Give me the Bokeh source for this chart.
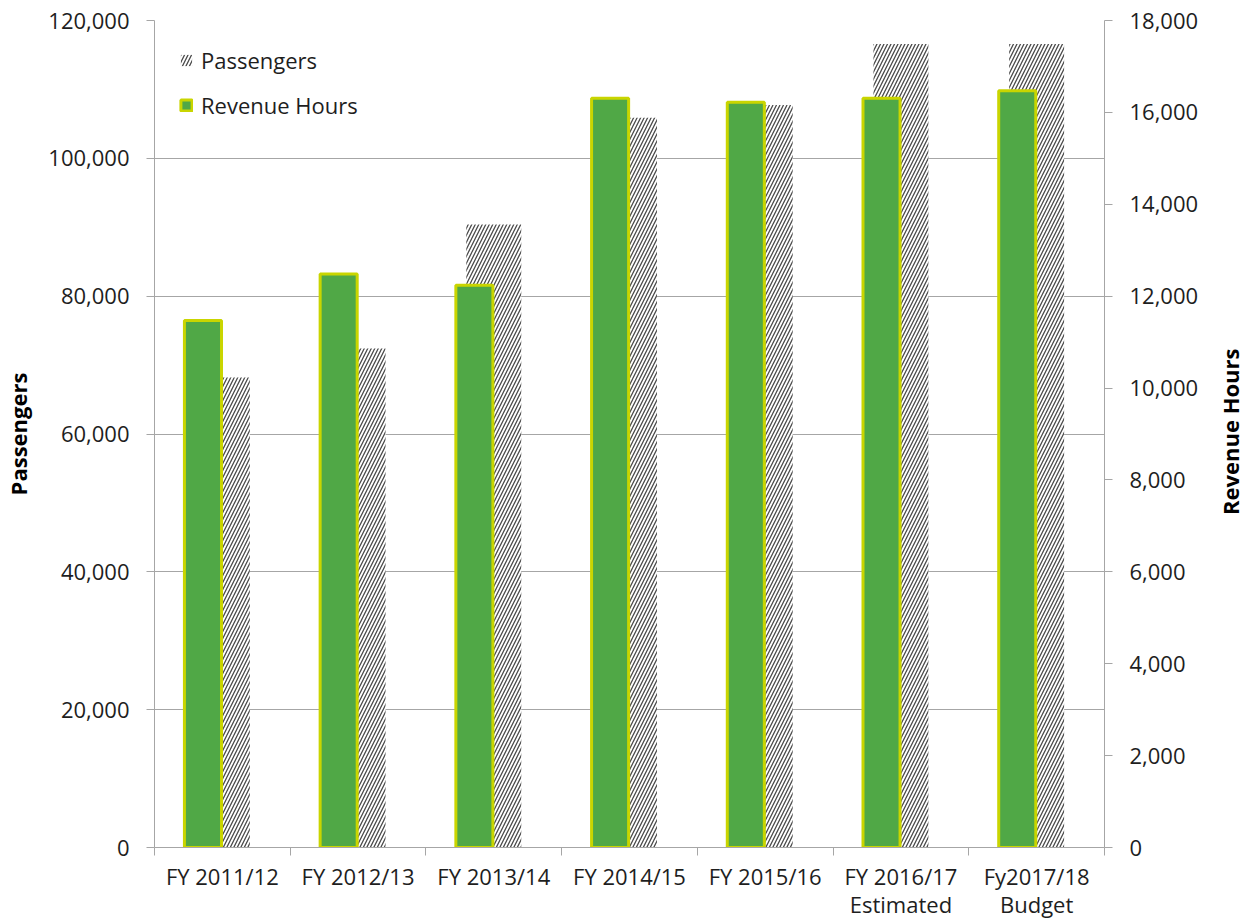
import math
from bokeh.plotting import figure
from bokeh.layouts import row
from bokeh.models import (Range1d, LinearAxis, FixedTicker, NumeralTickFormatter,
                          Legend, LegendItem, ColumnDataSource)
from bokeh.core.properties import value
from bokeh.embed import file_html
from bokeh.resources import INLINE
import numpy as np

categories = ["FY 2011/12", "FY 2012/13", "FY 2013/14", "FY 2014/15",
              "FY 2015/16", "FY 2016/17\nEstimated", "Fy2017/18\nBudget"]
passengers = [68200, 72400, 90400, 105900, 107750, 116600, 116600]
revenue_hours = [11470, 12480, 12240, 16310, 16220, 16310, 16470]
passenger_ticks = list(range(0, 120001, 20000))
hours_ticks = list(range(0, 18001, 2000))
right_title = "Revenue Hours"

FONT = "Open Sans"
TXT = "#1e1e1e"
AX = "#a6a6a6"

p = figure(width=1211, height=921, output_backend="svg", toolbar_location=None,
           x_range=Range1d(0, len(categories)), y_range=Range1d(0, 120000),
           min_border_left=154, min_border_right=107, min_border_top=20,
           min_border_bottom=73)
p.extra_y_ranges = {"rh": Range1d(0, 18000)}
p.outline_line_color = None
p.background_fill_color = "white"

x = np.arange(len(categories)) + 0.5
src = ColumnDataSource(dict(x=x, xg=x - 0.143, pas=passengers, rh=revenue_hours))

r1 = p.vbar(x="x", top="pas", width=0.405, source=src, fill_color="white",
            line_color=None, hatch_pattern="/", hatch_color="#4a4a4a",
            hatch_scale=7, hatch_weight=1.3)
r2 = p.vbar(x="xg", top="rh", width=0.273, source=src, y_range_name="rh",
            fill_color="#50A846", line_color="#C9D500", line_width=3)

# left axis
ya = p.yaxis[0]
ya.ticker = FixedTicker(ticks=passenger_ticks)
ya.formatter = NumeralTickFormatter(format="0,0")
ya.axis_label = "Passengers"

# right axis
ra = LinearAxis(y_range_name="rh", ticker=FixedTicker(ticks=hours_ticks),
                formatter=NumeralTickFormatter(format="0,0"))
p.add_layout(ra, "right")

for a in (ya, ra):
    a.axis_line_color = AX
    a.major_tick_line_color = AX
    a.major_tick_out = 8
    a.major_tick_in = 0
    a.minor_tick_line_color = None
    a.major_label_text_font = FONT
    a.major_label_text_font_size = "22px"
    a.major_label_text_color = TXT
    a.major_label_standoff = 17
    a.axis_label_text_font = FONT
    a.axis_label_text_font_size = "22px"
    a.axis_label_text_font_style = "bold"
    a.axis_label_text_color = "#000000"
    a.axis_label_standoff = 12

# bottom axis
xa = p.xaxis[0]
xa.ticker = FixedTicker(ticks=list(x), minor_ticks=list(range(len(categories) + 1)))
xa.major_label_overrides = {float(xi): c for xi, c in zip(x, categories)}
xa.axis_line_color = AX
xa.major_tick_out = 0
xa.major_tick_in = 0
xa.major_tick_line_color = None
xa.minor_tick_line_color = AX
xa.minor_tick_out = 8
xa.minor_tick_in = 0
xa.major_label_text_font = FONT
xa.major_label_text_font_size = "22px"
xa.major_label_text_color = TXT
xa.major_label_text_line_height = 0.94
xa.major_label_standoff = 5

p.xgrid.visible = False
p.ygrid.grid_line_color = AX
p.ygrid.grid_line_width = 1

legend = Legend(items=[LegendItem(label="Passengers", renderers=[r1]),
                       LegendItem(label="Revenue Hours", renderers=[r2])],
                location="top_left", margin=25, padding=13, spacing=15,
                label_height=30, glyph_height=14, glyph_width=14,
                label_standoff=8, border_line_color=None,
                background_fill_alpha=0,
                label_text_font=FONT, label_text_font_size="22px",
                label_text_color=TXT)
p.add_layout(legend)

# narrow strip holding the right-hand axis title (reads bottom to top)
t = figure(width=40, height=921, output_backend="svg", toolbar_location=None,
           x_range=Range1d(0, 40), y_range=Range1d(0, 921),
           x_axis_type=None, y_axis_type=None,
           min_border_left=0, min_border_right=0, min_border_top=0,
           min_border_bottom=0)
t.outline_line_color = None
t.grid.visible = False
t.text(x=[18], y=[463], text=[right_title], angle=math.pi / 2,
       text_align="center", text_baseline="middle",
       text_font=value(FONT), text_font_size="22px",
       text_font_style="bold", text_color="#000000")

layout = row(p, t, spacing=0)
open("out.html", "w").write(file_html(layout, INLINE))
